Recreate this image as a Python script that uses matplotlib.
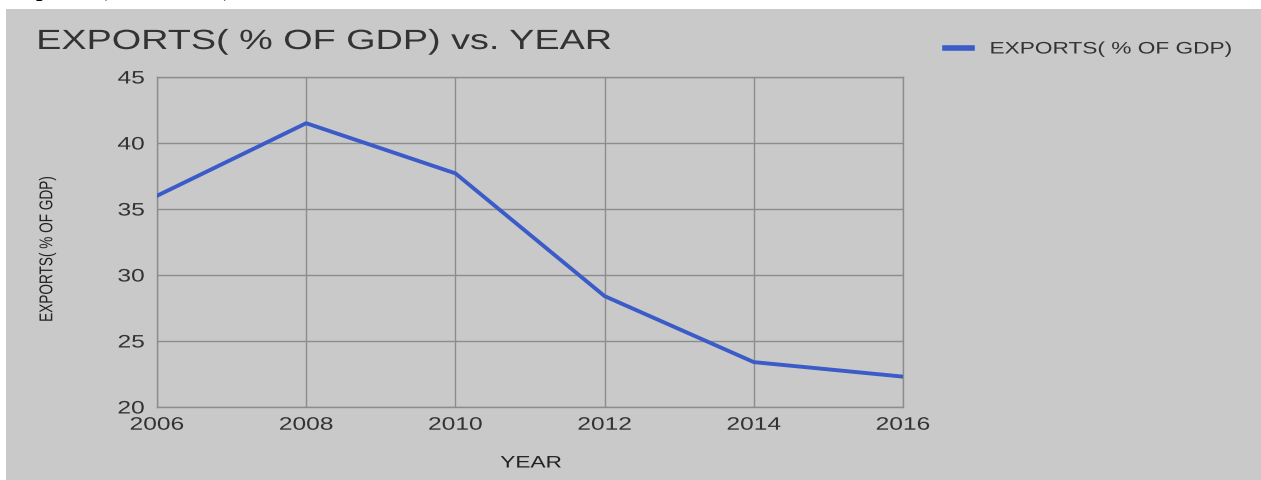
import matplotlib
matplotlib.use('Agg')
import matplotlib.pyplot as plt
from matplotlib.patches import Rectangle
from matplotlib import patheffects
from matplotlib.transforms import Affine2D

# exports as share of GDP, every second year
years = [2006, 2008, 2010, 2012, 2014, 2016]
exports = [36.0, 41.5, 37.7, 28.4, 23.4, 22.3]
yticks = [20, 25, 30, 35, 40, 45]

bg = '#c9c9c9'
gridc = '#8c8c8c'
txtc = '#333333'
sans = ['Liberation Sans', 'DejaVu Sans']
SX = 1.36   # chart text is drawn wide


class Widen(patheffects.AbstractPathEffect):
    """Stretch text horizontally on screen about a fixed anchor."""
    def __init__(self, sx, anchor='center'):
        super().__init__()
        self.sx = sx
        self.anchor = anchor

    def draw_path(self, renderer, gc, tpath, affine, rgbFace=None):
        bb = tpath.transformed(affine).get_extents()
        x0 = {'left': bb.x0, 'center': 0.5 * (bb.x0 + bb.x1), 'right': bb.x1}[self.anchor]
        aff = affine + Affine2D().translate(-x0, 0).scale(self.sx, 1).translate(x0, 0)
        renderer.draw_path(gc, tpath, aff, rgbFace)


def widen(t, anchor):
    t.set_path_effects([Widen(SX, anchor)])


W, H = 1261, 480
fig = plt.figure(figsize=(W / 100.0, H / 100.0), dpi=100)
fig.patch.set_facecolor('white')

# caption line above the chart, mostly hidden behind the panel
fig.text(5.0 / W, 1 + 5.0 / H, 'Exports (% of GDP)', family='Liberation Serif',
         fontsize=20, color='black', va='baseline', ha='left', zorder=-2)
fig.add_artist(Rectangle((6.0 / W, 0), 1 - 6.0 / W, 1 - 9.0 / H,
                         transform=fig.transFigure, facecolor=bg,
                         edgecolor='none', zorder=-1))

ax = fig.add_axes([157.0 / W, 1 - 407.0 / H, (903.0 - 157.0) / W, (407.0 - 77.0) / H])
ax.set_facecolor(bg)
ax.plot(years, exports, color='#3a5bc8', lw=2.8, label='EXPORTS( % OF GDP)', zorder=3)

ax.set_xlim(2006, 2016)
ax.set_ylim(20, 45)
ax.set_xticks(years)
ax.set_yticks(yticks)
ax.grid(True, color=gridc, lw=1)
for s in ax.spines.values():
    s.set_color(gridc)
    s.set_linewidth(1)
ax.tick_params(length=0, labelcolor='#333333', labelsize=13)
ax.tick_params(axis='x', pad=7)
ax.tick_params(axis='y', pad=9)
for tk in ax.xaxis.get_major_ticks():
    tk.label1.set_family(sans)
    widen(tk.label1, 'center')
for tk in ax.yaxis.get_major_ticks():
    tk.label1.set_family(sans)
    widen(tk.label1, 'right')

xl = fig.text(531.0 / W, 1 - 463.0 / H, 'YEAR', family=sans, fontsize=12,
              color='#222222', ha='center', va='center')
widen(xl, 'center')
yl = fig.text(47.0 / W, 1 - 249.0 / H, 'EXPORTS( % OF GDP)', family=sans,
              fontsize=9.8, color='#222222', ha='center', va='center', rotation=90)
widen(yl, 'center')

tt = fig.text(37.0 / W, 1 - 49.0 / H, 'EXPORTS( % OF GDP) vs. YEAR', family=sans,
              fontsize=20, color=txtc, va='baseline', ha='left')
widen(tt, 'left')

leg = ax.legend(loc='center left', bbox_to_anchor=(945.0 / W, 1 - 49.0 / H),
                bbox_transform=fig.transFigure, frameon=False, borderpad=0,
                borderaxespad=0, handlelength=1.6, handletextpad=1.1,
                prop={'family': sans, 'size': 12})
for t in leg.get_texts():
    t.set_color(txtc)
    widen(t, 'left')
for l in leg.get_lines():
    l.set_linewidth(4)

plt.savefig('out.png', dpi=100)
